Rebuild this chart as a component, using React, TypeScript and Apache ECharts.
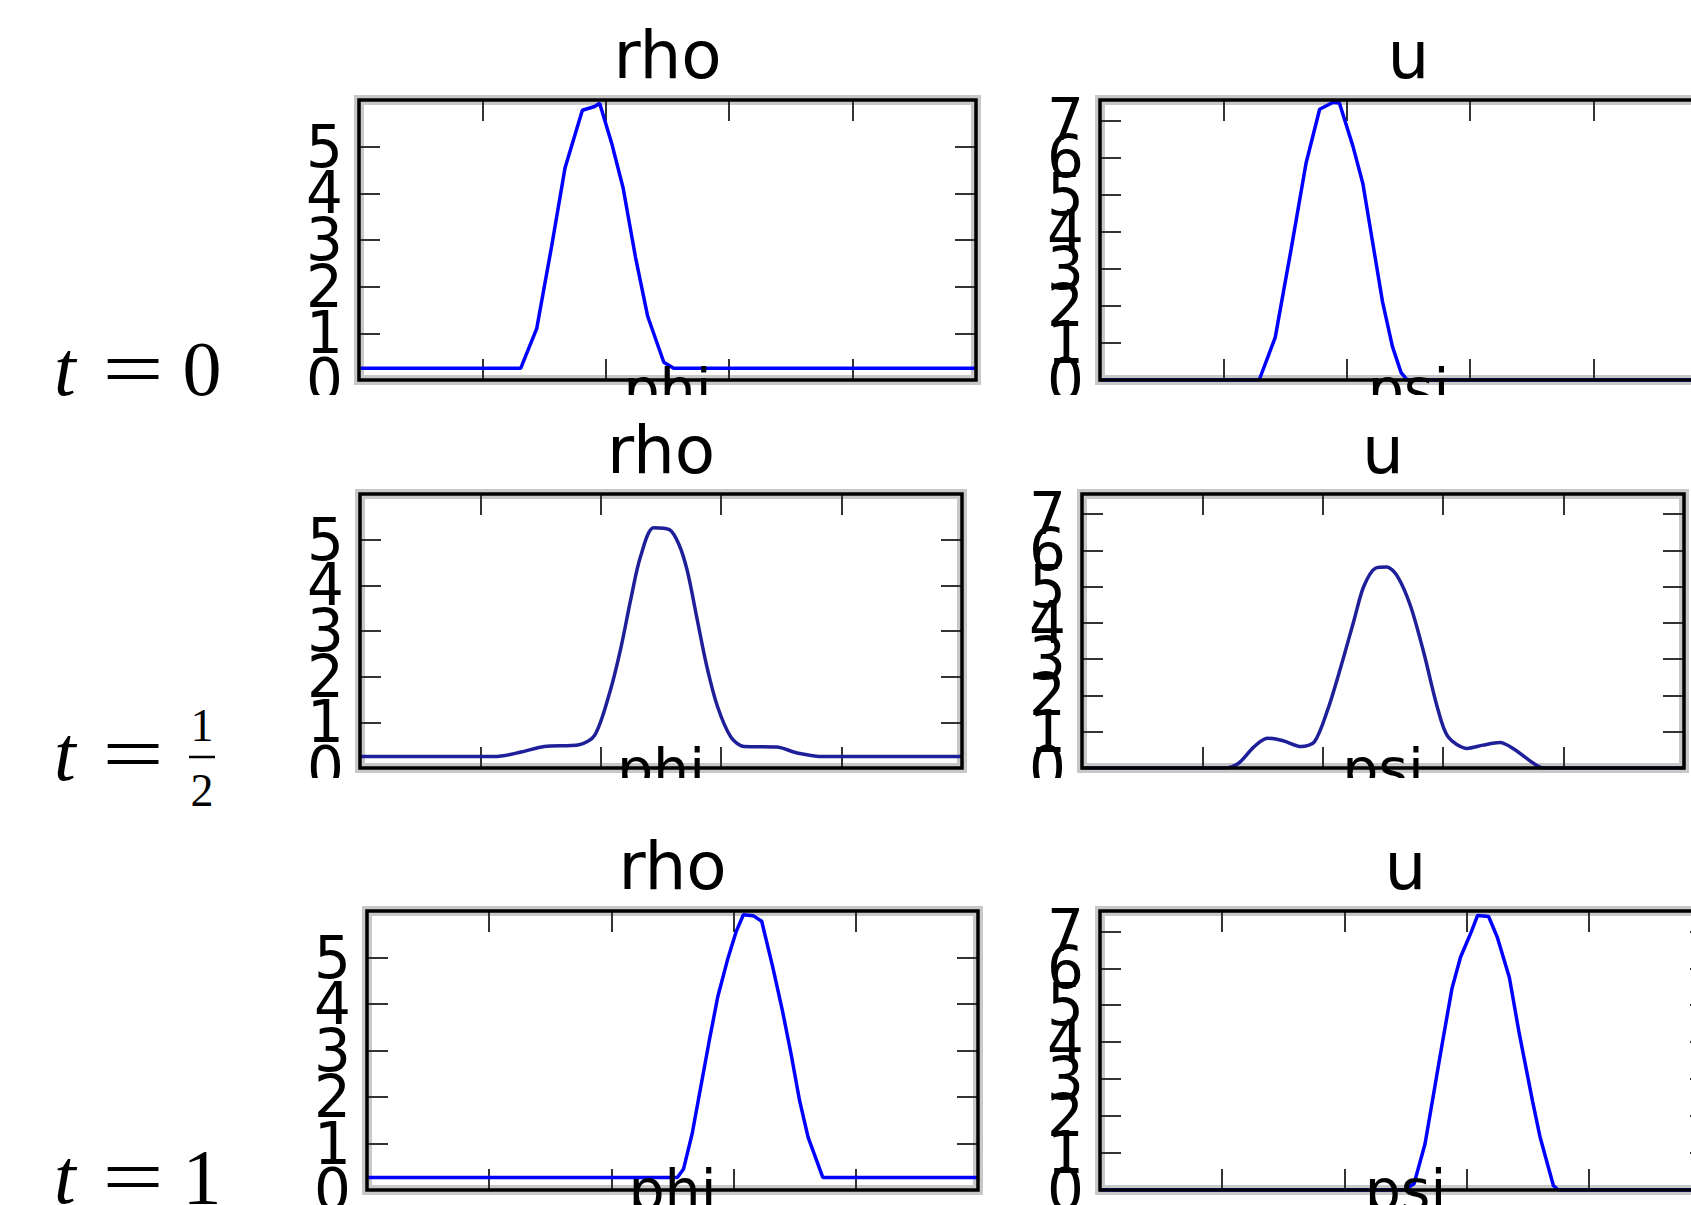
import React, { useEffect, useRef } from 'react';
import * as echarts from 'echarts';

// ---------- data ----------
const timeLabels = ['0', '1/2', '1'];
const panelTitles = ['rho', 'u'];
const xAxisNames = ['phi', 'psi'];
const xRange = [0, 5];
const rhoYMax = 6;
const uYMax = 7.55;

const rhoT0 = [
  [0, 0.25], [1.31, 0.25], [1.44, 1.1], [1.56, 2.85], [1.67, 4.55], [1.81, 5.78], [1.91, 5.86],
  [1.95, 5.93], [2.05, 5.05], [2.14, 4.12], [2.24, 2.64], [2.34, 1.36], [2.47, 0.38], [2.55, 0.25], [5, 0.25],
];
const uT0 = [
  [0, 0], [1.29, 0], [1.42, 1.15], [1.55, 3.55], [1.67, 5.85], [1.78, 7.3], [1.89, 7.49], [1.94, 7.47],
  [2.05, 6.3], [2.13, 5.3], [2.21, 3.7], [2.29, 2.1], [2.37, 0.9], [2.44, 0.2], [2.49, 0], [5, 0],
];
const rhoTHalf = [
  [0, 0.25], [1.12, 0.25], [1.34, 0.35], [1.53, 0.47], [1.82, 0.51], [1.95, 0.72], [2.08, 1.71],
  [2.17, 2.67], [2.25, 3.71], [2.33, 4.63], [2.44, 5.26], [2.57, 5.22], [2.65, 4.89], [2.72, 4.3],
  [2.8, 3.26], [2.88, 2.23], [2.97, 1.34], [3.08, 0.68], [3.19, 0.47], [3.46, 0.46], [3.63, 0.33],
  [3.85, 0.25], [5, 0.25],
];
const uTHalf = [
  [0, 0], [1.18, 0], [1.3, 0.13], [1.43, 0.59], [1.54, 0.82], [1.67, 0.75], [1.82, 0.59], [1.93, 0.72],
  [2.04, 1.6], [2.15, 2.79], [2.26, 4.08], [2.34, 5.0], [2.44, 5.51], [2.53, 5.54], [2.62, 5.28],
  [2.73, 4.45], [2.84, 3.16], [2.95, 1.69], [3.04, 0.86], [3.2, 0.54], [3.33, 0.63], [3.47, 0.7],
  [3.58, 0.54], [3.75, 0.13], [3.83, 0], [5, 0],
];
const rhoT1 = [
  [0, 0.27], [2.54, 0.27], [2.59, 0.45], [2.66, 1.2], [2.8, 3.2], [2.87, 4.15], [2.95, 4.95], [3.02, 5.55],
  [3.08, 5.92], [3.16, 5.9], [3.23, 5.78], [3.32, 4.8], [3.4, 3.85], [3.47, 2.93], [3.54, 1.92],
  [3.61, 1.13], [3.73, 0.27], [5, 0.27],
];
const uT1 = [
  [0, 0], [2.49, 0], [2.57, 0.17], [2.66, 1.25], [2.8, 3.95], [2.88, 5.45], [2.95, 6.3], [3.04, 7.0],
  [3.09, 7.43], [3.18, 7.4], [3.25, 6.85], [3.35, 5.75], [3.43, 4.25], [3.54, 2.4], [3.6, 1.45],
  [3.71, 0.12], [3.75, 0], [5, 0],
];

// ---------- layout / style ----------
const W = 1691;
const H = 1205;
const boxes = [
  [359, 100, 617, 280], [1100, 100, 617, 280],
  [360, 494, 602, 274], [1082, 494, 602, 274],
  [367, 911, 611, 279], [1100, 911, 611, 279],
];
const rowGeom = [
  { titleC: 55.5, xNameC: 389, tBase: 395, clip: [395, 433] },
  { titleC: 450, xNameC: 769, tBase: 780, clip: [778, 840] },
  { titleC: 866, xNameC: 1190, tBase: 1203, clip: null as null | number[] },
];
const lineColors = ['#0000ff', '#1f1f99', '#0000ff'];
const SANS = 'DejaVu Sans';
const SERIF = 'Liberation Serif';

function isInt(v: number) {
  return Math.abs(v - Math.round(v)) < 1e-6;
}

function buildOption() {
  const dataSets = [rhoT0, uT0, rhoTHalf, uTHalf, rhoT1, uT1];
  const grids: any[] = [];
  const xAxes: any[] = [];
  const yAxes: any[] = [];
  const series: any[] = [];
  const graphics: any[] = [];

  const mkTick = () => ({ show: true, inside: true, length: 21, lineStyle: { color: '#333', width: 2 } });
  const labelStyle = { show: true, margin: 16, color: '#000', fontFamily: SANS, fontSize: 58, hideOverlap: false };

  dataSets.forEach((data, i) => {
    const row = Math.floor(i / 2);
    const col = i % 2;
    const [left, top, width, height] = boxes[i];
    const yMax = col === 0 ? rhoYMax : uYMax;
    grids.push({ left, top, width, height, show: false, containLabel: false, outerBoundsMode: 'none' });
    ['bottom', 'top'].forEach((pos) => {
      xAxes.push({
        gridIndex: i, type: 'value', position: pos, min: xRange[0], max: xRange[1], interval: 1,
        axisLine: { show: false, onZero: false }, axisTick: mkTick(), axisLabel: { show: false },
        splitLine: { show: false },
      });
    });
    const yBase = { gridIndex: i, type: 'value', min: 0, max: yMax, interval: 1, splitLine: { show: false } };
    // left axis: ticks + labels 1..n
    yAxes.push({
      ...yBase, position: 'left',
      axisLine: { show: false, onZero: false }, axisTick: mkTick(),
      axisLabel: {
        ...labelStyle, showMinLabel: false, showMaxLabel: false,
        formatter: (v: number) => (isInt(v) && v > 0 && v < yMax - 0.01 ? String(Math.round(v)) : ''),
      },
    });
    // left axis: the label at the minimum only
    yAxes.push({
      ...yBase, position: 'left',
      axisLine: { show: false, onZero: false }, axisTick: { show: false },
      axisLabel: {
        ...labelStyle, showMinLabel: true, showMaxLabel: false,
        formatter: (v: number) => (Math.abs(v) < 1e-6 ? '0' : ''),
      },
    });
    // right axis: ticks only
    yAxes.push({
      ...yBase, position: 'right',
      axisLine: { show: false, onZero: false }, axisTick: mkTick(), axisLabel: { show: false },
    });
    series.push({
      type: 'line', xAxisIndex: 2 * i, yAxisIndex: 3 * i, data,
      showSymbol: false, symbol: 'none', clip: true, silent: true,
      smooth: row === 1 ? 0.3 : false,
      lineStyle: { color: lineColors[row], width: 3.5 }, itemStyle: { color: lineColors[row] }, z: 2,
    });

    const shape = { x: left, y: top, width, height };
    graphics.push({ type: 'rect', shape, style: { fill: 'none', stroke: '#c8c8c8', lineWidth: 10 }, z: 0, silent: true });
    graphics.push({ type: 'rect', shape, style: { fill: 'none', stroke: '#000', lineWidth: 3.5 }, z: 50, silent: true });
    graphics.push({
      type: 'text', x: left + width / 2, y: rowGeom[row].titleC, z: 95, silent: true,
      style: { text: panelTitles[col], fontFamily: SANS, fontSize: 66, fill: '#000', align: 'center', verticalAlign: 'middle' },
    });
    graphics.push({
      type: 'text', x: left + width / 2, y: rowGeom[row].xNameC, z: 60, silent: true,
      style: { text: xAxisNames[col], fontFamily: SANS, fontSize: 57, fill: '#000', align: 'center', verticalAlign: 'middle' },
    });
  });

  // clipping of each row picture (white covers below)
  rowGeom.forEach((g) => {
    if (g.clip) {
      graphics.push({
        type: 'rect', shape: { x: 240, y: g.clip[0], width: W - 240, height: g.clip[1] - g.clip[0] },
        style: { fill: '#fff' }, z: 90, silent: true,
      });
    }
  });

  // t labels
  const FS = 78;
  timeLabels.forEach((lab, r) => {
    const c = rowGeom[r].tBase - 0.3375 * FS;
    graphics.push({
      type: 'text', x: 54, y: c, z: 95, silent: true,
      style: { text: 't', fontFamily: SERIF, fontStyle: 'italic', fontSize: FS, fill: '#000', align: 'left', verticalAlign: 'middle' },
    });
    graphics.push({
      type: 'text', x: 133, y: c, scaleX: 1.4, originX: 0, originY: 0, z: 95, silent: true,
      style: { text: '=', fontFamily: SERIF, fontSize: FS, fill: '#000', align: 'center', verticalAlign: 'middle' },
    });
    if (lab.includes('/')) {
      const [num, den] = lab.split('/');
      const fs = 46;
      graphics.push({
        type: 'text', x: 202, y: 741 - 0.3375 * fs, z: 95, silent: true,
        style: { text: num, fontFamily: SERIF, fontSize: fs, fill: '#000', align: 'center', verticalAlign: 'middle' },
      });
      graphics.push({
        type: 'line', shape: { x1: 189, y1: 757, x2: 215, y2: 757 }, z: 95, silent: true,
        style: { stroke: '#000', lineWidth: 2.5 },
      });
      graphics.push({
        type: 'text', x: 202, y: 806 - 0.3375 * fs, z: 95, silent: true,
        style: { text: den, fontFamily: SERIF, fontSize: fs, fill: '#000', align: 'center', verticalAlign: 'middle' },
      });
    } else {
      graphics.push({
        type: 'text', x: 202, y: c, z: 95, silent: true,
        style: { text: lab, fontFamily: SERIF, fontSize: FS, fill: '#000', align: 'center', verticalAlign: 'middle' },
      });
    }
  });

  return {
    animation: false,
    backgroundColor: '#fff',
    grid: grids,
    xAxis: xAxes,
    yAxis: yAxes,
    series,
    graphic: { elements: graphics },
  };
}

export default function App() {
  const ref = useRef<HTMLDivElement>(null);
  useEffect(() => {
    const chart = echarts.init(ref.current!, null, { renderer: 'svg', width: W, height: H });
    chart.setOption(buildOption() as any);
    return () => chart.dispose();
  }, []);
  return (
    <div
      ref={ref}
      style={{ position: 'fixed', left: 0, top: 0, width: W, height: H, background: '#fff', overflow: 'hidden' }}
    />
  );
}
